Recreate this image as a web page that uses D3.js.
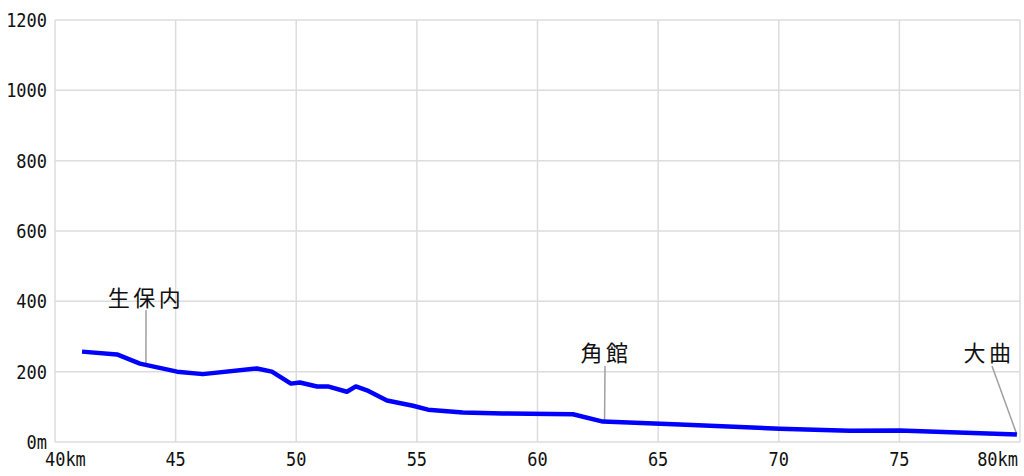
<!DOCTYPE html>
<html><head><meta charset="utf-8">
<script src="https://cdn.jsdelivr.net/npm/d3@7"></script>
<style>
html,body{margin:0;padding:0;background:#fff;}
svg{display:block;}
</style></head>
<body>
<svg id="c" width="1024" height="476"></svg>
<script>
// Distance along route (km) and elevation (m)
const distanceKm = [41.12, 42.57, 43.52, 45.06, 46.13, 48.37, 48.99, 49.78, 50.15, 50.86, 51.31, 52.10, 52.47, 52.93, 53.76, 54.84, 55.46, 56.91, 58.57, 61.47, 62.71, 65.90, 70.04, 72.94, 75.00, 79.87];
const elevationM = [257, 249, 223, 200, 193, 209, 200, 166, 169, 158, 158, 143, 158, 147, 118, 103, 92, 84, 81, 79, 58, 50, 38, 32, 33, 21];

const xTicks = [40, 45, 50, 55, 60, 65, 70, 75, 80];
const xTickLabels = ["40km", "45", "50", "55", "60", "65", "70", "75", "80km"];
const yTicks = [0, 200, 400, 600, 800, 1000, 1200];
const yTickLabels = ["0m", "200", "400", "600", "800", "1000", "1200"];

const stationNames = ["生保内", "角館", "大曲"];
const stationKm = [43.77, 62.78, 79.87];

const svg = d3.select("#c");
const pLeft = 55, pRight = 1020, pTop = 20, pBottom = 442;
const x = d3.scaleLinear().domain([40, 80]).range([pLeft, pRight]);
const y = d3.scaleLinear().domain([0, 1200]).range([pBottom, pTop]);

const grid = svg.append("g").attr("stroke", "#dcdcdc").attr("stroke-width", 1.5);
grid.selectAll("line.v").data(xTicks).join("line").attr("class", "v")
  .attr("x1", d => x(d)).attr("x2", d => x(d)).attr("y1", pTop).attr("y2", pBottom);
grid.selectAll("line.h").data(yTicks).join("line").attr("class", "h")
  .attr("y1", d => y(d)).attr("y2", d => y(d)).attr("x1", pLeft).attr("x2", pRight);

const fontAxis = "'DejaVu Sans Mono', monospace";
const sx = 0.87;
svg.append("g").selectAll("text").data(yTicks).join("text")
  .attr("transform", d => `translate(47,${y(d)}) scale(${sx},1)`)
  .attr("dy", "0.36em")
  .attr("text-anchor", "end").attr("font-family", fontAxis).attr("font-size", 19.5).attr("fill", "#111")
  .text((d, i) => yTickLabels[i]);

svg.append("g").selectAll("text").data(xTicks).join("text")
  .attr("transform", (d, i) => `translate(${i === 0 ? 45 : (i === xTicks.length - 1 ? 1018 : x(d))},466) scale(${sx},1)`)
  .attr("text-anchor", (d, i) => i === 0 ? "start" : (i === xTicks.length - 1 ? "end" : "middle"))
  .attr("font-family", fontAxis).attr("font-size", 19.5).attr("fill", "#111")
  .text((d, i) => xTickLabels[i]);

const interp = km => {
  for (let i = 1; i < distanceKm.length; i++) {
    if (km <= distanceKm[i]) {
      const t = (km - distanceKm[i-1]) / (distanceKm[i] - distanceKm[i-1]);
      return elevationM[i-1] + t * (elevationM[i] - elevationM[i-1]);
    }
  }
  return elevationM[elevationM.length - 1];
};

// leader lines
const labelPos = [{lx: 146, ly: 306, ax: 146, ay: 310}, {lx: 606, ly: 361, ax: 605, ay: 366}, {lx: 989, ly: 361, ax: 992, ay: 366}];
const lead = svg.append("g").attr("stroke", "#a0a0a0").attr("stroke-width", 1.5);
stationKm.forEach((k, i) => {
  lead.append("line").attr("x1", labelPos[i].ax).attr("y1", labelPos[i].ay)
    .attr("x2", x(k)).attr("y2", y(interp(k)));
});

const line = d3.line().x((d, i) => x(distanceKm[i])).y((d, i) => y(elevationM[i]));
svg.append("path").datum(elevationM).attr("d", line)
  .attr("fill", "none").attr("stroke", "#0000ff").attr("stroke-width", 4.5)
  .attr("stroke-linejoin", "round");

svg.append("g").selectAll("text").data(stationNames).join("text")
  .attr("x", (d, i) => labelPos[i].lx).attr("y", (d, i) => labelPos[i].ly)
  .attr("text-anchor", "middle").attr("font-family", "'Noto Sans CJK JP', sans-serif")
  .attr("font-size", 22).attr("letter-spacing", 3.5).attr("fill", "#111")
  .text(d => d);
</script>
</body></html>
